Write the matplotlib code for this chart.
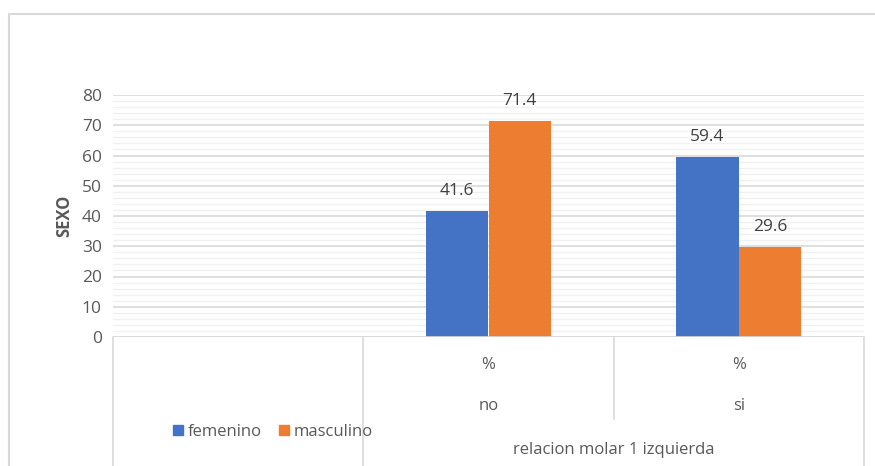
import numpy as np
import matplotlib.pyplot as plt
from matplotlib.patches import Rectangle
from matplotlib.ticker import MultipleLocator

# datos
categorias = ['', 'no', 'si']
filas_pct = ['', '%', '%']
femenino = [None, 41.6, 59.4]
masculino = [None, 71.4, 29.6]
grupo = 'relacion molar 1 izquierda'

azul = '#4472C4'
naranja = '#ED7D31'
gris_txt = '#595959'
gris_linea = '#d9d9d9'

plt.rcParams['font.family'] = ['Open Sans', 'DejaVu Sans']

fig = plt.figure(figsize=(8.75, 4.66), dpi=100)
ax = fig.add_axes([113 / 875, 1 - 337 / 466, 751 / 875, 242 / 466])

# marco exterior del grafico
fig.patches.append(Rectangle((9 / 875, -0.1), 1.0, 1 - 14 / 466 + 0.1,
                             transform=fig.transFigure, fill=False,
                             edgecolor=gris_linea, lw=1.5))

x = np.arange(len(categorias))
w = 0.25
for i in range(len(categorias)):
    if femenino[i] is None:
        continue
    b1 = ax.bar(x[i] - w / 2, femenino[i], w, color=azul, lw=0, zorder=3)
    b2 = ax.bar(x[i] + w / 2, masculino[i], w, color=naranja, lw=0, zorder=3)
    ax.bar_label(b1, fmt='%.1f', padding=9, fontsize=12.5, color='#404040')
    ax.bar_label(b2, fmt='%.1f', padding=9, fontsize=12.5, color='#404040')

ax.set_xlim(-0.5, len(categorias) - 0.5)
ax.set_ylim(0, 80)
ax.yaxis.set_major_locator(MultipleLocator(10))
ax.yaxis.set_minor_locator(MultipleLocator(2))
ax.grid(axis='y', which='major', color=gris_linea, lw=1.2, zorder=0)
ax.grid(axis='y', which='minor', color='#f0f0f0', lw=1, zorder=0)
for s in ax.spines.values():
    s.set_visible(False)
ax.axhline(0, color=gris_linea, lw=1.2, zorder=4)
ax.tick_params(axis='y', length=0, labelsize=12.5, labelcolor=gris_txt, pad=8)
ax.tick_params(axis='x', length=0, labelbottom=False)
ax.tick_params(axis='y', which='minor', length=0)
ax.set_ylabel('SEXO', fontsize=12, color=gris_txt, fontweight='bold', labelpad=6)

# eje de categorias en varios niveles
trans = ax.get_xaxis_transform()
for xv, fondo in [(-0.5, -0.55), (0.5, -0.55), (1.5, -0.34), (2.5, -0.55)]:
    ax.plot([xv, xv], [0, fondo], color=gris_linea, lw=1.2,
            transform=trans, clip_on=False)
for i in range(len(categorias)):
    ax.text(x[i], -0.116, filas_pct[i], transform=trans, ha='center',
            va='center', fontsize=12, color=gris_txt)
    ax.text(x[i], -0.285, categorias[i], transform=trans, ha='center',
            va='center', fontsize=12, color=gris_txt)
ax.text(1.5, -0.467, grupo, transform=trans, ha='center', va='center',
        fontsize=12, color=gris_txt)

# leyenda
h = [Rectangle((0, 0), 1, 1, color=azul), Rectangle((0, 0), 1, 1, color=naranja)]
fig.legend(h, ['femenino', 'masculino'], loc='center left',
           bbox_to_anchor=(158 / 875, 1 - 432 / 466), ncol=2, frameon=False,
           fontsize=12, labelcolor=gris_txt, handlelength=0.6, handleheight=0.6,
           handletextpad=0.3, columnspacing=1.0)

fig.savefig('out.png', dpi=100)
